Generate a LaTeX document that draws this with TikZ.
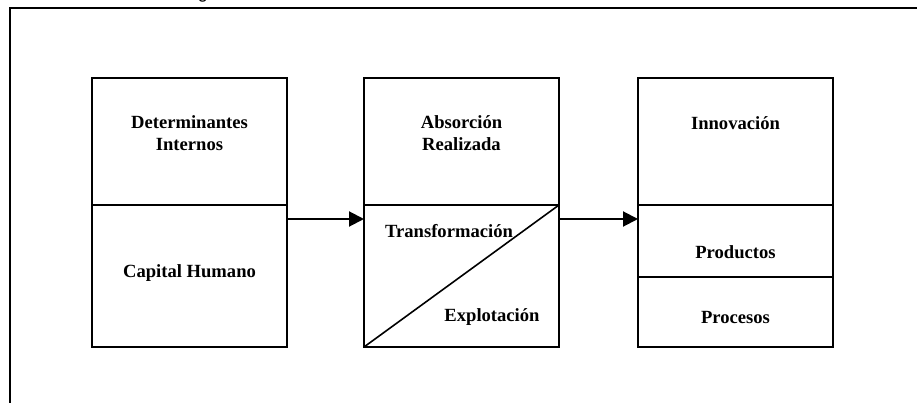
\documentclass[tikz,border=0pt]{standalone}
\usepackage{fontspec}
\setmainfont{Liberation Serif}
\newfontfamily\sansf{Liberation Sans}
\usetikzlibrary{arrows.meta}
\begin{document}
\begin{tikzpicture}[x=1pt,y=-1pt,
  sect/.style={draw, line width=1.6pt, minimum width=195pt, inner sep=0pt, outer sep=0pt},
  lbl/.style={font=\fontsize{18.6}{22}\selectfont\bfseries, align=center, inner sep=0pt},
  flow/.style={line width=2pt, -{Triangle[length=15pt,width=15pt]}}]
\useasboundingbox (0,0) rectangle (917,403);
\clip (0,0) rectangle (917,403);
% partial caption glyph cut at the top
\node[font=\sansf\fontsize{18}{20}\selectfont, anchor=base, inner sep=0pt] (cap) at (203,-1) {g};
% frame
\draw[line width=2.4pt] (10,403) -- (10,8) -- (917,8);
% box 1
\node[sect, minimum height=127pt] (d1) at (189.5,141.5) {};
\node[sect, minimum height=142pt] (d2) at (189.5,276) {};
% box 2
\node[sect, minimum height=127pt] (a1) at (461.5,141.5) {};
\node[sect, minimum height=142pt] (a2) at (461.5,276) {};
\draw[line width=1.6pt] (a2.south west) -- (a2.north east);
% box 3
\node[sect, minimum height=127pt] (i1) at (735.5,141.5) {};
\node[sect, minimum height=72pt] (i2) at (735.5,241) {};
\node[sect, minimum height=70pt] (i3) at (735.5,312) {};
% labels
\node[lbl] (t1) at (189.5,133) {Determinantes\\Internos};
\node[lbl] (t2) at (189.5,273) {Capital Humano};
\node[lbl] (t3) at (461.5,133) {Absorción\\Realizada};
\node[lbl] (t4) at (449,231) {Transformación};
\node[lbl] (t5) at (492,317) {Explotación};
\node[lbl] (t6) at (735.5,123) {Innovación};
\node[lbl] (t7) at (735.5,252) {Productos};
\node[lbl] (t8) at (735.5,317) {Procesos};
% arrows
\draw[flow] ([yshift=-14pt]d2.north east) -- ([yshift=-14pt]a2.north west);
\draw[flow] ([yshift=-14pt]a2.north east) -- ([yshift=-14pt]i2.north west);
\end{tikzpicture}
\end{document}
